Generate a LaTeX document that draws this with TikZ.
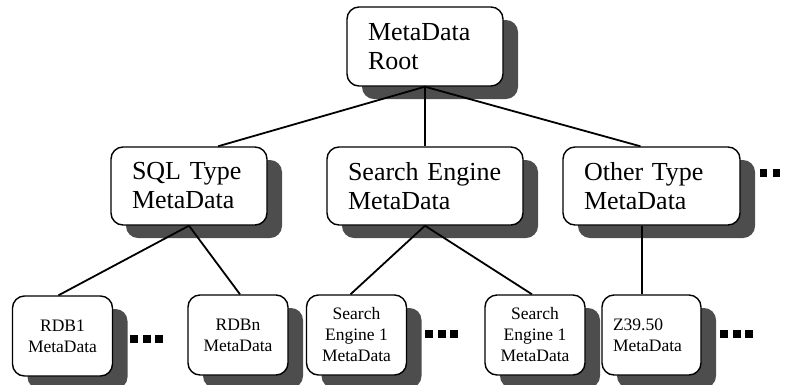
\documentclass[tikz,border=0pt]{standalone}
\usepackage{fontspec}
\setmainfont{Liberation Serif}
\usetikzlibrary{shadows}
\definecolor{shadowgray}{HTML}{4D4D4D}
\tikzset{
  boxbase/.style={draw=black, line width=1.4pt, fill=white, rounded corners=12pt,
    drop shadow={shadow xshift=15pt, shadow yshift=-13pt, fill=shadowgray, opacity=1}},
  bigbox/.style={boxbase, font=\fontsize{26}{29}\selectfont, minimum height=78pt,
    inner xsep=21pt, inner ysep=2pt, align=left},
  smallbox/.style={boxbase, font=\fontsize{17.5}{21}\selectfont, minimum width=100pt,
    minimum height=80pt, align=center, inner sep=2pt},
  leftsmall/.style={boxbase, font=\fontsize{17.5}{21}\selectfont, text width=77pt,
    inner xsep=11pt, inner ysep=2pt, minimum height=80pt, align=left},
  link/.style={line width=1.8pt},
  dotsq/.style={fill=black}
}
\begin{document}
\begin{tikzpicture}[x=1pt,y=-1pt]
\useasboundingbox (0,0) rectangle (785,384);
% top level
\node[bigbox, text width=114pt, minimum height=79pt] (root) at (425,46.5) {MetaData\\Root};
% middle level
\node[bigbox, text width=114pt] (sql) at (189,186) {SQL Type\\MetaData};
\node[bigbox, text width=154pt] (search) at (425,186) {Search Engine\\MetaData};
\node[bigbox, text width=135pt] (other) at (651.5,186) {Other Type\\MetaData};
% bottom level
\node[smallbox] (rdb1) at (62.5,336) {RDB1\\MetaData};
\node[smallbox] (rdbn) at (238,335) {RDBn\\MetaData};
\node[smallbox] (se1) at (356.5,335) {Search\\Engine 1\\MetaData};
\node[smallbox] (se2) at (535,335) {Search\\Engine 1\\MetaData};
\node[leftsmall] (z39) at (651.5,335) {Z39.50\\MetaData};
% connectors
\draw[link] (root.south) -- ([xshift=29pt]sql.north);
\draw[link] (root.south) -- (search.north);
\draw[link] (root.south) -- ([xshift=-11pt]other.north);
\draw[link] (sql.south) -- ([xshift=-4pt]rdb1.north);
\draw[link] (sql.south) -- ([xshift=2pt]rdbn.north);
\draw[link] (search.south) -- ([xshift=-6pt]se1.north);
\draw[link] (search.south) -- ([xshift=-3pt]se2.north);
\draw[link] ([xshift=-9.5pt]other.south) -- ([xshift=-9.5pt]z39.north);
% ellipsis dots
\foreach \x in {130,142.5,155} \fill[dotsq] (\x,335) rectangle ++(8,8);
\foreach \x in {425,437.5,450} \fill[dotsq] (\x,330) rectangle ++(8,8);
\foreach \x in {720,732.5,745} \fill[dotsq] (\x,330) rectangle ++(8,8);
\foreach \x in {760,773} \fill[dotsq] (\x,169) rectangle ++(7,8);
\end{tikzpicture}
\end{document}
